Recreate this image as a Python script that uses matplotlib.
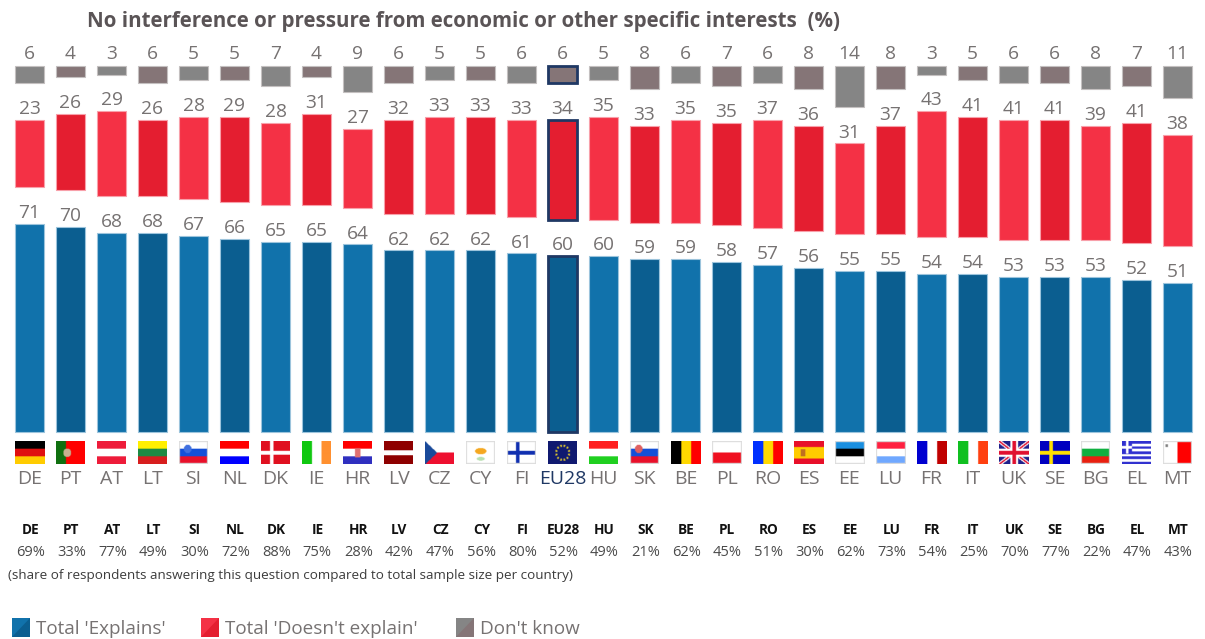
import matplotlib
matplotlib.use('Agg')
import matplotlib.pyplot as plt
from matplotlib.colors import to_rgb
from matplotlib.patches import Polygon, Rectangle
import numpy as np

plt.rcParams['font.family'] = ['Open Sans', 'DejaVu Sans']

codes = ['DE', 'PT', 'AT', 'LT', 'SI', 'NL', 'DK', 'IE', 'HR', 'LV', 'CZ', 'CY', 'FI', 'EU28', 'HU',
         'SK', 'BE', 'PL', 'RO', 'ES', 'EE', 'LU', 'FR', 'IT', 'UK', 'SE', 'BG', 'EL', 'MT']
explains = [71, 70, 68, 68, 67, 66, 65, 65, 64, 62, 62, 62, 61, 60, 60,
            59, 59, 58, 57, 56, 55, 55, 54, 54, 53, 53, 53, 52, 51]
doesnt = [23, 26, 29, 26, 28, 29, 28, 31, 27, 32, 33, 33, 33, 34, 35,
          33, 35, 35, 37, 36, 31, 37, 43, 41, 41, 41, 39, 41, 38]
dont_know = [6, 4, 3, 6, 5, 5, 7, 4, 9, 6, 5, 5, 6, 6, 5,
             8, 6, 7, 6, 8, 14, 8, 3, 5, 6, 6, 8, 7, 11]
share = [69, 33, 77, 49, 30, 72, 88, 75, 28, 42, 47, 56, 80, 52, 49,
         21, 62, 45, 51, 30, 62, 73, 54, 25, 70, 77, 22, 47, 43]

title = 'No interference or pressure from economic or other specific interests  (%)'
note = '(share of respondents answering this question compared to total sample size per country)'
legend_labels = ["Total 'Explains'", "Total 'Doesn't explain'", "Don't know"]

# stripes, top to bottom or left to right
h_flags = {
    'DE': ['#000000', '#e01010', '#ffcc00'], 'AT': ['#ee1c3a', '#ffffff', '#ee1c3a'],
    'LT': ['#fff000', '#1e8a44', '#d81e1e'], 'SI': ['#ffffff', '#1450d8', '#e8102a'],
    'NL': ['#ff0000', '#ffffff', '#0000ff'], 'LV': ['#8e0000', '#8e0000', '#ffffff', '#8e0000', '#8e0000'],
    'HR': ['#ff0000', '#ffffff', '#3030c0'], 'HU': ['#ff2020', '#ffffff', '#20d020'],
    'SK': ['#ffffff', '#1450d8', '#e8102a'], 'PL': ['#ffffff', '#f01020'],
    'ES': ['#e8102a', '#ffcc00', '#ffcc00', '#e8102a'], 'EE': ['#1a8fe0', '#000000', '#ffffff'],
    'LU': ['#ff2040', '#ffffff', '#70a8ff'], 'BG': ['#ffffff', '#10b040', '#e82010'],
    'CZ': ['#ffffff', '#ee1030'], 'EL': ['#3030d0', '#ffffff'] * 4 + ['#3030d0'],
}
v_flags = {
    'IE': ['#10c810', '#ffffff', '#ff9030'], 'BE': ['#000000', '#ffd800', '#ff0000'],
    'RO': ['#0030ff', '#ffd800', '#ff0000'], 'FR': ['#0000d0', '#ffffff', '#c00000'],
    'IT': ['#10c020', '#ffffff', '#ff4010'], 'MT': ['#ffffff', '#ff0000'],
    'PT': ['#107010', '#ff0000', '#ff0000'],
}
cross_flags = {'DK': ('#e01020', '#ffffff'), 'FI': ('#ffffff', '#1030b0'), 'SE': ('#0000c0', '#ffe000')}
bordered = ['SI', 'SK', 'PL', 'FI', 'CY', 'MT', 'EE', 'LU', 'BG']


def make_flag(code):
    h, w = 42, 58
    yy, xx = np.mgrid[0:h, 0:w]
    img = np.ones((h, w, 3))
    if code in h_flags:
        cols = h_flags[code]
        for k, c in enumerate(cols):
            img[(yy * len(cols) // h) == k] = to_rgb(c)
    elif code in v_flags:
        cols = v_flags[code]
        for k, c in enumerate(cols):
            img[(xx * len(cols) // w) == k] = to_rgb(c)
    elif code in cross_flags:
        bg, fg = cross_flags[code]
        img[:] = to_rgb(bg)
        img[(abs(xx - 21) < 4) | (abs(yy - 21) < 4)] = to_rgb(fg)
    if code == 'CZ':
        img[xx < 24 - abs(yy - 21) * 24 / 21] = to_rgb('#1a4a9a')
    if code == 'EL':
        img[(xx < 20) & (yy < 23)] = to_rgb('#3030d0')
        img[(abs(xx - 10) < 3) & (yy < 23) | (abs(yy - 11) < 3) & (xx < 20)] = to_rgb('#ffffff')
    if code == 'CY':
        img[((xx - 29) ** 2 + (yy - 18) ** 2 * 4 < 130)] = to_rgb('#f5a820')
        img[((xx - 29) ** 2 + (yy - 32) ** 2 * 6 < 70)] = to_rgb('#b8e0b0')
    if code == 'EU28':
        img[:] = to_rgb('#101a70')
        ang = np.arctan2(yy - 21, xx - 29) % (np.pi / 6)
        ring = (abs(np.hypot(xx - 29, yy - 21) - 13) < 2.2) & (abs(ang - np.pi / 12) < 0.12)
        img[ring] = to_rgb('#d8c030')
    if code == 'PT':
        img[(xx - 22) ** 2 + (yy - 21) ** 2 < 64] = to_rgb('#c8b090')
    if code == 'HR':
        img[(abs(xx - 29) < 6) & (abs(yy - 21) < 9)] = to_rgb('#e07070')
    if code in ('SI', 'SK'):
        img[(xx - 17) ** 2 + (yy - 14) ** 2 < 60] = to_rgb('#e06060' if code == 'SK' else '#4070e0')
    if code == 'ES':
        img[(abs(xx - 17) < 5) & (abs(yy - 21) < 7)] = to_rgb('#c07020')
    if code == 'MT':
        img[(abs(xx - 7) < 3) & (abs(yy - 8) < 3)] = to_rgb('#808080')
    if code == 'UK':
        img[:] = to_rgb('#20208a')
        dx = (xx - 29) / 29
        dy = (yy - 21) / 21
        img[abs(abs(dx) - abs(dy)) < 0.2] = to_rgb('#ffffff')
        img[abs(abs(dx) - abs(dy)) < 0.08] = to_rgb('#e01030')
        img[(abs(xx - 29) < 8) | (abs(yy - 21) < 8)] = to_rgb('#ffffff')
        img[(abs(xx - 29) < 4) | (abs(yy - 21) < 4)] = to_rgb('#e01030')
    if code in bordered:
        img[:2] = img[-2:] = to_rgb('#dcdcdc')
        img[:, :2] = img[:, -2:] = to_rgb('#dcdcdc')
    return img


px_w, px_h = 1205, 639
fig = plt.figure(figsize=(px_w / 100, px_h / 100), dpi=100, facecolor='white')

# whole figure axes, one category is 41 px and one percent 2.93 px
x0, dx = 29.5, 41.0
y0, dy = 432.0, 2.93
ax = fig.add_axes([0, 0, 1, 1])
xlim = (-x0 / dx, (px_w - x0) / dx)
ylim = ((y0 - px_h) / dy, y0 / dy)

blue = ['#1172ab', '#0b5e90']
red = ['#f43145', '#e41e30']
grey = ['#858585', '#857577']
edges = ['#9cc4dc', '#f8a0aa', '#c4c0c0']
eu_navy = '#1f3864'
label_col = '#767272'
bar_w = 29 / dx

gap = 12.5      # white band between blue and red
grey_top = 125  # grey bars hang from a fixed line
expl = np.array(explains)
nope = np.array(doesnt)
dk = np.array(dont_know)

for i, code in enumerate(codes):
    eu = code == 'EU28'
    alt = i % 2
    ec = [eu_navy] * 3 if eu else edges
    lw = 2 if eu else 0.8
    ax.bar(i, expl[i], bar_w, color=blue[alt], edgecolor=ec[0], linewidth=lw)
    ax.bar(i, nope[i], bar_w, bottom=expl[i] + gap, color=red[alt], edgecolor=ec[1], linewidth=lw)
    ax.bar(i, dk[i], bar_w, bottom=grey_top - dk[i], color=grey[alt], edgecolor=ec[2], linewidth=lw)

    ax.text(i, expl[i] + 0.6, str(expl[i]), ha='center', va='bottom', fontsize=13.8, color=label_col)
    ax.text(i, expl[i] + gap + nope[i] + 0.6, str(nope[i]), ha='center', va='bottom', fontsize=13.8, color=label_col)
    ax.text(i, grey_top + 1.0, str(dk[i]), ha='center', va='bottom', fontsize=13.8, color=label_col)

    ax.imshow(make_flag(code), extent=(i - 14.5 / dx, i + 14.5 / dx, -11, -3.4), aspect='auto',
              interpolation='bilinear', zorder=2)
    ax.text(i, -15.9, code, ha='center', va='center', fontsize=14, color=eu_navy if eu else label_col)
    ax.text(i + 0.02, -33.5, code, ha='center', va='center', fontsize=9.8, fontweight='bold', color='#111111')
    ax.text(i + 0.02, -41, f'{share[i]}%', ha='center', va='center', fontsize=10.5, color='#4a4a4a')

ax.set_xlim(xlim)
ax.set_ylim(ylim)
ax.axis('off')


def fx(p):
    return p / px_w


def fy(p):
    return 1 - p / px_h


fig.text(fx(87), fy(21), title, ha='left', va='center', fontsize=14.8, fontweight='bold', color='#5a5456')
fig.text(fx(8), fy(575), note, ha='left', va='center', fontsize=9.7, color='#3c3c3c')

# legend, two-tone swatches like the original
legend_cols = [blue, red, grey]
swatch_x = [12, 201, 456]
text_x = [36, 225, 480]
for k, lab in enumerate(legend_labels):
    l, r, t, b = swatch_x[k], swatch_x[k] + 18, 618, 637
    fig.patches.append(Rectangle((fx(l), fy(b)), fx(r) - fx(l), fy(t) - fy(b),
                                 transform=fig.transFigure, facecolor=legend_cols[k][0], edgecolor='none'))
    fig.patches.append(Polygon([(fx(r), fy(t)), (fx(r), fy(b)), (fx(l), fy(b))], closed=True,
                               transform=fig.transFigure, facecolor=legend_cols[k][1], edgecolor='none'))
    fig.text(fx(text_x[k]), fy(629), lab, ha='left', va='center', fontsize=13.6, color=label_col)

fig.savefig('out.png', dpi=100)
